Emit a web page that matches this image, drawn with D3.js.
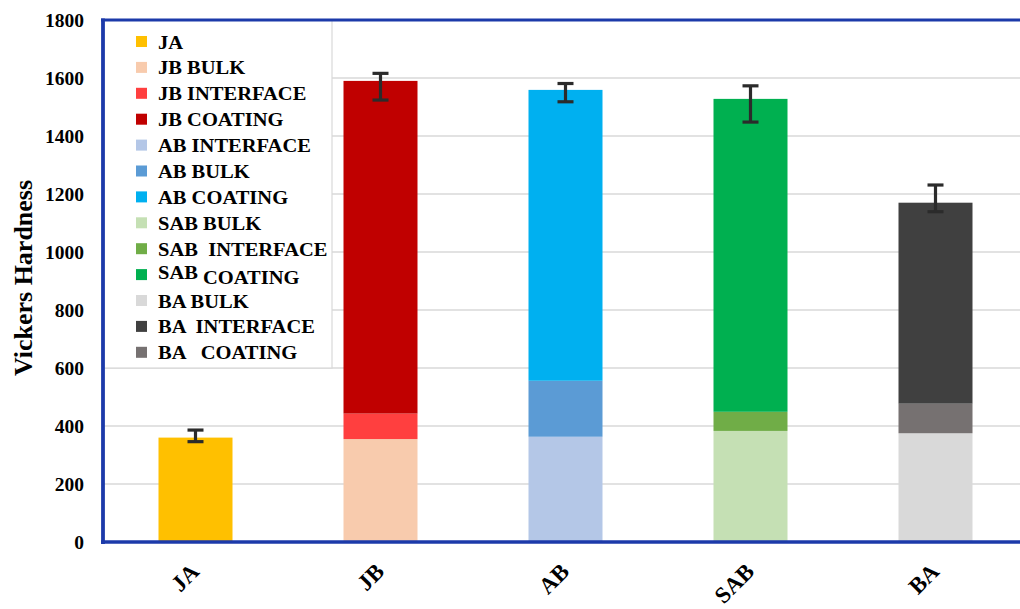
<!DOCTYPE html>
<html>
<head>
<meta charset="utf-8">
<script src="https://cdn.jsdelivr.net/npm/d3@7/dist/d3.min.js"></script>
<style>
  html, body { margin: 0; padding: 0; background: #fff; }
  svg { display: block; }
  text { font-family: "Liberation Serif", "Times New Roman", serif; font-weight: bold; fill: #000; }
</style>
</head>
<body>
<svg id="chart" width="1020" height="609"></svg>
<script>
// Samples along the x axis
const categories = ["JA", "JB", "AB", "SAB", "BA"];

// Legend entries and their fill colours
const legendNames = [
  "JA", "JB BULK", "JB INTERFACE", "JB COATING",
  "AB INTERFACE", "AB BULK", "AB COATING",
  "SAB BULK", "SAB  INTERFACE", "SAB COATING",
  "BA BULK", "BA  INTERFACE", "BA   COATING"
];
const legendColors = [
  "#FFC000", "#F8CBAD", "#FF3F3F", "#C00000",
  "#B4C7E7", "#5B9BD5", "#00B0F0",
  "#C5E0B4", "#70AD47", "#00B050",
  "#D9D9D9", "#404040", "#767171"
];

// Stacked segments, bottom to top within each sample
const segCategory = ["JA", "JB", "JB", "JB", "AB", "AB", "AB", "SAB", "SAB", "SAB", "BA", "BA", "BA"];
const segSeries   = [0, 1, 2, 3, 4, 5, 6, 7, 8, 9, 10, 12, 11];
const segValue    = [360, 355, 88, 1147, 363, 193, 1003, 383, 66, 1079, 375, 102, 693];

// Error bar extent at the top of each column
const errLow  = [346, 1524, 1518, 1448, 1139];
const errHigh = [386, 1616, 1581, 1573, 1231];

// Y axis ticks
const yTicks = [0, 200, 400, 600, 800, 1000, 1200, 1400, 1600, 1800];

const svg = d3.select("#chart");
const plotLeft = 103, plotTop = 20, plotBottom = 542, plotRight = 1028;
const axisBlue = "#1C3AAA";

const x = d3.scaleBand().domain(categories).range([plotLeft, plotRight]).paddingInner(0.6).paddingOuter(0.3);
const y = d3.scaleLinear().domain([0, 1800]).range([plotBottom, plotTop]);

// Gridlines
svg.append("g").selectAll("line").data(yTicks.filter(d => d > 0)).join("line")
  .attr("x1", plotLeft).attr("x2", 1020)
  .attr("y1", d => y(d)).attr("y2", d => y(d))
  .attr("stroke", "#D9D9D9").attr("stroke-width", 1.5);

// Stack offsets per sample
const running = new Map(categories.map(c => [c, 0]));
const segs = segValue.map((v, i) => {
  const c = segCategory[i];
  const y0 = running.get(c);
  running.set(c, y0 + v);
  return { c, y0, y1: y0 + v, color: legendColors[segSeries[i]] };
});

svg.append("g").selectAll("rect").data(segs).join("rect")
  .attr("x", d => x(d.c))
  .attr("width", x.bandwidth())
  .attr("y", d => y(d.y1))
  .attr("height", d => y(d.y0) - y(d.y1))
  .attr("fill", d => d.color);

// Error bars
const eg = svg.append("g").attr("stroke", "#2B2B2B").attr("stroke-width", 3.2);
categories.forEach((c, i) => {
  const cx = x(c) + x.bandwidth() / 2;
  eg.append("line").attr("x1", cx).attr("x2", cx).attr("y1", y(errHigh[i])).attr("y2", y(errLow[i]));
  eg.append("line").attr("x1", cx - 8).attr("x2", cx + 8).attr("y1", y(errHigh[i])).attr("y2", y(errHigh[i]));
  eg.append("line").attr("x1", cx - 8).attr("x2", cx + 8).attr("y1", y(errLow[i])).attr("y2", y(errLow[i]));
});

// Legend
const lg = svg.append("g");
lg.append("rect").attr("x", plotLeft).attr("y", plotTop).attr("width", 229).attr("height", 348)
  .attr("fill", "#fff").attr("stroke", "#D9D9D9").attr("stroke-width", 1.2);
const rowH = 25.9;
legendNames.forEach((name, i) => {
  const cy = 42 + i * rowH;
  lg.append("rect").attr("x", 136).attr("y", cy - 6).attr("width", 11).attr("height", 11)
    .attr("fill", legendColors[i]);
  const t = lg.append("text")
    .attr("transform", `translate(158,${cy + 6.5}) scale(1.08,1)`)
    .style("font-size", "19px").style("white-space", "pre");
  if (name === "SAB COATING") {
    t.append("tspan").text("SAB").attr("dy", -3);
    t.append("tspan").text(" COATING").attr("dy", 5);
  } else {
    t.text(name);
  }
});

// Y axis tick labels
svg.append("g").selectAll("text").data(yTicks).join("text")
  .attr("x", 84).attr("y", d => y(d) + 6.5)
  .attr("text-anchor", "end").style("font-size", "19.5px")
  .text(d => d);

// Axis frame lines
svg.append("line").attr("x1", plotLeft - 2).attr("x2", 1020).attr("y1", plotTop).attr("y2", plotTop)
  .attr("stroke", axisBlue).attr("stroke-width", 3.2);
svg.append("line").attr("x1", plotLeft).attr("x2", plotLeft).attr("y1", plotTop - 1.5).attr("y2", plotBottom + 2)
  .attr("stroke", axisBlue).attr("stroke-width", 3.8);
svg.append("line").attr("x1", plotLeft - 2).attr("x2", 1020).attr("y1", plotBottom).attr("y2", plotBottom)
  .attr("stroke", axisBlue).attr("stroke-width", 3.6);

// X category labels, rotated
svg.append("g").selectAll("text").data(categories).join("text")
  .attr("text-anchor", "end")
  .attr("transform", d => `translate(${x(d) + x.bandwidth() / 2 + 5},${573}) rotate(-45)`)
  .style("font-size", "23px")
  .text(d => d);

// Y axis title
svg.append("text")
  .attr("transform", "translate(32,278) rotate(-90)")
  .attr("text-anchor", "middle")
  .style("font-size", "26px")
  .text("Vickers Hardness");
</script>
</body>
</html>
